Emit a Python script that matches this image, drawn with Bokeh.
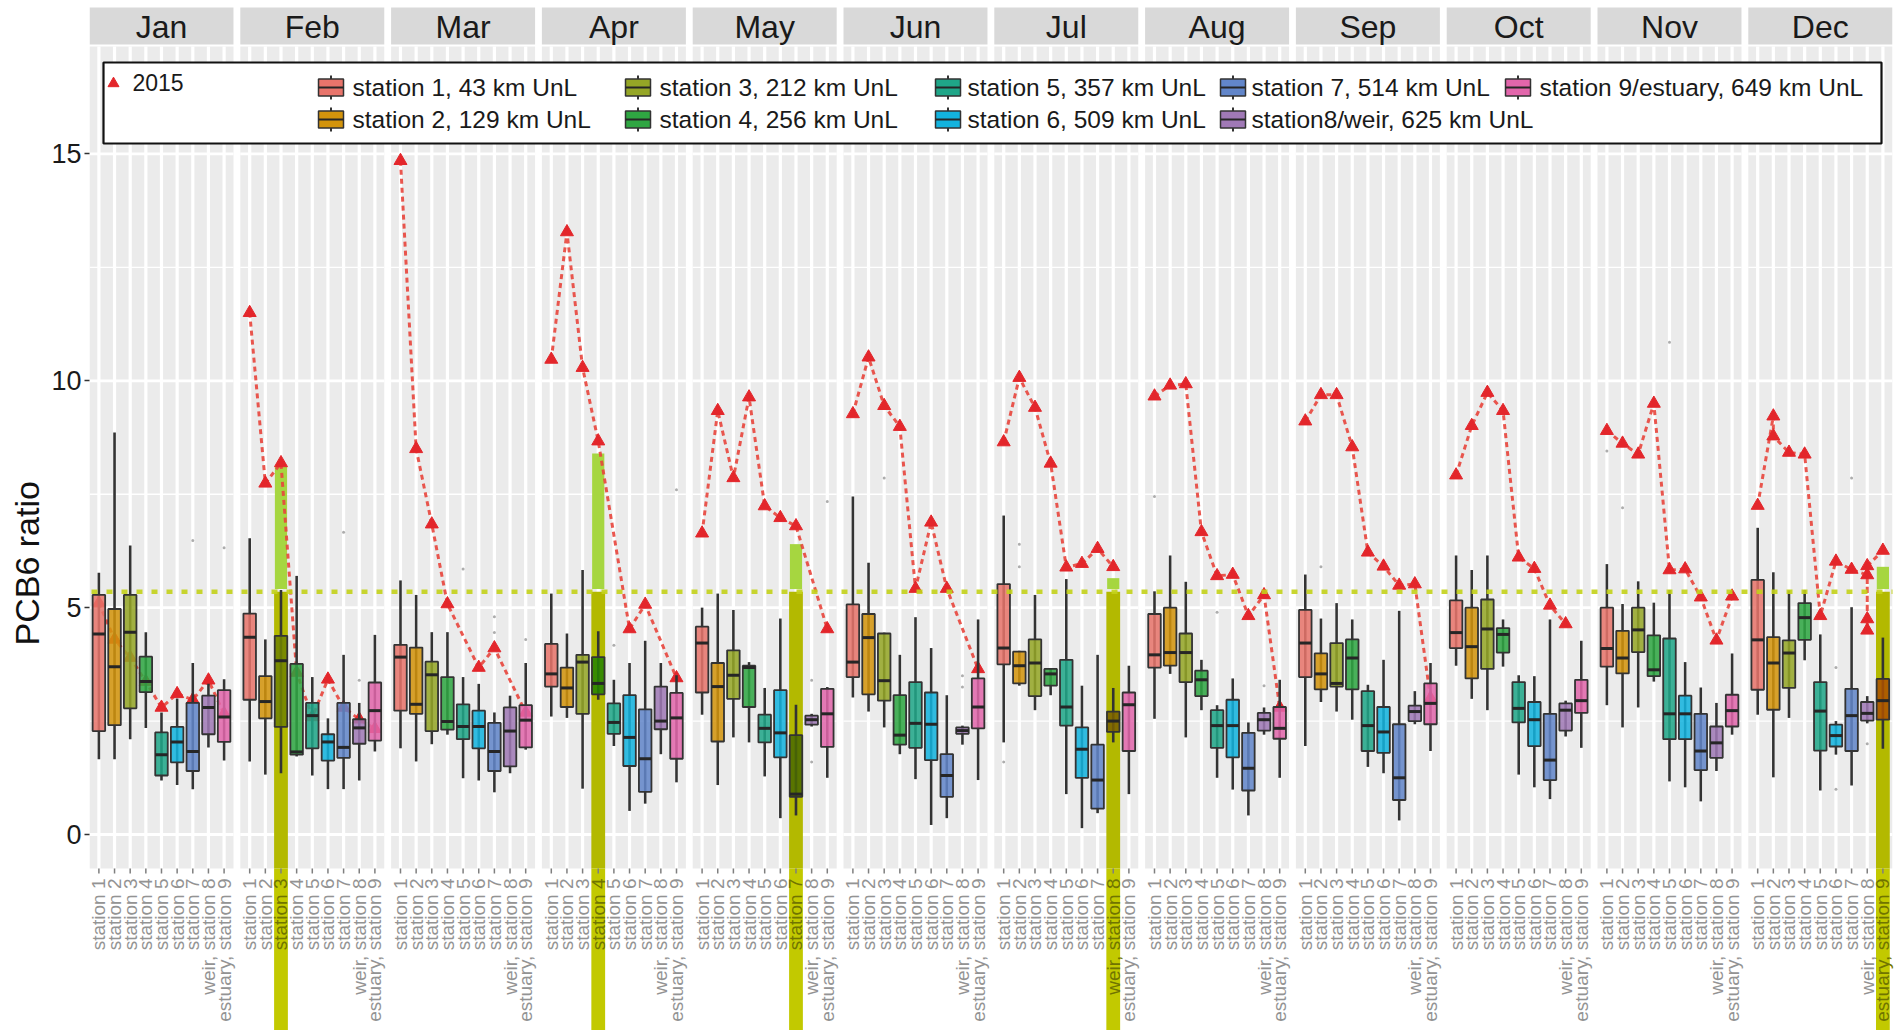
import math
from bokeh.plotting import figure
from bokeh.models import Range1d, FixedTicker, Title
from bokeh.embed import file_html
from bokeh.resources import INLINE
from bokeh.core.properties import value

# ---------------------------------------------------------------- data
months = ["Jan", "Feb", "Mar", "Apr", "May", "Jun",
          "Jul", "Aug", "Sep", "Oct", "Nov", "Dec"]

station_ticks = ["station 1", "station 2", "station 3", "station 4", "station 5",
                 "station 6", "station 7", "weir, station 8", "estuary, station 9"]

station_names = ["station 1, 43 km UnL", "station 2, 129 km UnL",
                 "station 3, 212 km UnL", "station 4, 256 km UnL",
                 "station 5, 357 km UnL", "station 6, 509 km UnL",
                 "station 7, 514 km UnL", "station8/weir, 625 km UnL",
                 "station 9/estuary, 649 km UnL"]

station_colors = ["#E8746B", "#D3940C", "#95A626", "#2FA642", "#1FA688",
                  "#13B3DE", "#6286CA", "#A079B6", "#E266AB"]

# box statistics: one row per month, one column per station
whisker_low = [
    [1.66, 1.66, 2.10, 2.35, 1.19, 1.09, 1.00, 1.92, 1.63],
    [1.61, 1.32, 1.35, 1.72, 1.30, 1.00, 1.00, 1.19, 1.83],
    [1.90, 1.61, 1.99, 2.20, 1.24, 1.19, 0.93, 1.35, 1.87],
    [2.60, 2.57, 1.01, 2.97, 1.95, 0.52, 0.68, 1.77, 1.15],
    [2.64, 1.09, 2.14, 2.03, 1.28, 0.36, 0.42, 2.38, 1.25],
    [3.02, 2.71, 2.36, 1.77, 1.22, 0.21, 0.36, 1.98, 1.20],
    [2.03, 3.28, 2.74, 3.07, 0.89, 0.14, 0.47, 2.03, 0.89],
    [2.55, 3.54, 2.14, 2.74, 1.25, 0.99, 0.42, 2.20, 1.25],
    [1.95, 2.92, 2.71, 2.53, 1.49, 1.35, 0.31, 2.43, 1.84],
    [3.72, 2.99, 2.74, 3.70, 1.32, 1.04, 0.78, 2.16, 1.91],
    [2.85, 2.36, 2.80, 3.37, 1.17, 1.04, 0.73, 1.40, 2.20],
    [2.64, 1.26, 2.57, 3.84, 0.97, 1.76, 1.08, 2.45, 1.89],
]
q1 = [
    [2.28, 2.41, 2.78, 3.14, 1.30, 1.59, 1.40, 2.21, 2.04],
    [2.97, 2.56, 2.37, 1.76, 1.90, 1.63, 1.69, 2.00, 2.07],
    [2.73, 2.66, 2.28, 2.31, 2.10, 1.90, 1.40, 1.50, 1.92],
    [3.26, 2.81, 2.66, 3.09, 2.22, 1.51, 0.94, 2.32, 1.67],
    [3.13, 2.05, 2.99, 2.81, 2.03, 1.70, 0.83, 2.42, 1.93],
    [3.47, 3.09, 2.95, 1.98, 1.91, 1.64, 0.83, 2.22, 2.34],
    [3.75, 3.33, 3.05, 3.28, 2.40, 1.25, 0.57, 2.26, 1.84],
    [3.68, 3.72, 3.36, 3.05, 1.91, 1.70, 0.97, 2.29, 2.11],
    [3.47, 3.20, 3.26, 3.20, 1.84, 1.80, 0.76, 2.50, 2.43],
    [4.11, 3.44, 3.65, 4.01, 2.47, 1.95, 1.20, 2.29, 2.68],
    [3.70, 3.55, 4.02, 3.49, 2.10, 2.10, 1.42, 1.69, 2.38],
    [3.19, 2.75, 3.23, 4.29, 1.85, 1.94, 1.84, 2.51, 2.53],
]
median = [
    [4.42, 3.70, 4.46, 3.37, 1.76, 2.04, 1.83, 2.80, 2.59],
    [4.35, 2.93, 3.83, 1.82, 2.62, 2.04, 1.92, 2.35, 2.73],
    [3.91, 2.87, 3.52, 2.49, 2.38, 2.38, 1.83, 2.28, 2.52],
    [3.54, 3.23, 3.80, 3.33, 2.47, 2.14, 1.67, 2.50, 2.57],
    [4.22, 3.26, 3.51, 3.68, 2.34, 2.24, 0.89, 2.53, 2.66],
    [3.80, 4.34, 3.39, 2.19, 2.45, 2.43, 1.30, 2.29, 2.81],
    [4.11, 3.72, 3.78, 3.54, 2.81, 1.88, 1.20, 2.50, 2.86],
    [3.96, 4.01, 4.01, 3.41, 2.40, 2.40, 1.46, 2.53, 2.34],
    [4.22, 3.54, 3.33, 3.89, 2.40, 2.26, 1.25, 2.71, 2.89],
    [4.45, 4.14, 4.53, 4.41, 2.78, 2.53, 1.64, 2.74, 2.95],
    [4.10, 3.89, 4.51, 3.63, 2.66, 2.66, 1.84, 2.02, 2.73],
    [4.29, 3.78, 4.00, 4.78, 2.72, 2.18, 2.62, 2.67, 2.95],
]
q3 = [
    [5.28, 4.97, 5.28, 3.92, 2.25, 2.37, 2.90, 3.06, 3.18],
    [4.87, 3.49, 4.38, 3.76, 2.90, 2.21, 2.90, 2.54, 3.35],
    [4.18, 4.12, 3.81, 3.47, 2.87, 2.73, 2.46, 2.80, 2.85],
    [4.20, 3.68, 3.96, 3.91, 2.89, 3.07, 2.76, 3.26, 3.12],
    [4.58, 3.78, 4.06, 3.72, 2.64, 3.18, 2.19, 2.62, 3.21],
    [5.07, 4.86, 4.43, 3.07, 3.36, 3.13, 1.77, 2.36, 3.44],
    [5.52, 4.03, 4.30, 3.65, 3.85, 2.36, 1.98, 2.71, 3.13],
    [4.86, 5.00, 4.43, 3.61, 2.74, 2.97, 2.24, 2.68, 2.81],
    [4.95, 3.99, 4.22, 4.30, 3.16, 2.81, 2.43, 2.84, 3.33],
    [5.16, 5.00, 5.18, 4.55, 3.36, 2.92, 2.66, 2.89, 3.41],
    [5.00, 4.49, 5.00, 4.39, 4.32, 3.06, 2.66, 2.38, 3.08],
    [5.61, 4.35, 4.28, 5.10, 3.36, 2.42, 3.21, 2.92, 3.43],
]
whisker_high = [
    [5.77, 8.86, 6.37, 4.46, 2.69, 3.00, 3.78, 3.32, 3.42],
    [6.53, 4.30, 5.39, 5.70, 3.47, 2.56, 3.96, 2.90, 4.40],
    [5.60, 5.28, 4.46, 4.46, 3.47, 3.32, 2.69, 3.06, 3.78],
    [5.31, 4.43, 5.83, 4.48, 3.41, 3.78, 4.27, 3.78, 3.51],
    [5.00, 5.31, 4.95, 3.80, 3.23, 4.76, 2.86, 2.66, 3.25],
    [7.45, 5.99, 4.45, 3.96, 4.79, 4.11, 3.07, 2.40, 4.74],
    [7.03, 4.05, 5.28, 3.67, 5.63, 3.28, 3.96, 3.23, 3.72],
    [5.36, 6.15, 5.57, 3.85, 2.85, 3.44, 2.47, 2.80, 3.41],
    [5.73, 4.76, 5.10, 4.74, 3.30, 3.85, 4.93, 3.16, 3.78],
    [6.15, 5.83, 6.15, 4.74, 3.51, 3.49, 4.74, 2.95, 4.27],
    [5.96, 5.08, 5.58, 5.11, 5.39, 3.80, 3.24, 2.90, 3.99],
    [6.76, 5.78, 5.38, 5.39, 4.41, 2.50, 5.01, 3.05, 4.34],
]

# 2015 samples: stations and ratios per month
tri_station = [
    [1, 2, 3, 4, 5, 6, 7, 8, 9],
    [1, 2, 3, 4, 5, 6, 7, 8, 9],
    [1, 2, 3, 4, 6, 7, 9],
    [1, 2, 3, 4, 6, 7, 9],
    [1, 2, 3, 4, 5, 6, 7, 9],
    [1, 2, 3, 4, 5, 6, 7, 9],
    [1, 2, 3, 4, 5, 6, 7, 8],
    [1, 2, 3, 4, 5, 6, 7, 8, 9],
    [1, 2, 3, 4, 5, 6, 7, 8, 9],
    [1, 2, 3, 4, 5, 6, 7, 8],
    [1, 2, 3, 4, 5, 6, 7, 8, 9],
    [1, 2, 2, 3, 4, 5, 6, 7, 8, 8, 8, 8, 9],
]
tri_value = [
    [5.10, 4.30, 3.90, 3.37, 2.80, 3.10, 2.97, 3.40, 2.66],
    [11.50, 7.74, 8.19, 3.57, 2.59, 3.42, 2.80, 2.54, 2.33],
    [14.85, 8.50, 6.84, 5.08, 3.68, 4.11, 2.69],
    [10.47, 13.28, 10.29, 8.67, 4.53, 5.07, 3.45],
    [6.64, 9.34, 7.86, 9.64, 7.24, 6.98, 6.80, 4.53],
    [9.27, 10.52, 9.45, 8.99, 5.42, 6.88, 5.42, 3.65],
    [8.65, 10.07, 9.41, 8.18, 5.89, 5.97, 6.30, 5.90],
    [9.66, 9.90, 9.93, 6.67, 5.70, 5.73, 4.82, 5.28, 2.80],
    [9.11, 9.69, 9.69, 8.54, 6.22, 5.91, 5.49, 5.52, 3.00],
    [7.92, 9.01, 9.74, 9.34, 6.11, 5.86, 5.05, 4.64],
    [8.90, 8.62, 8.38, 9.50, 5.83, 5.85, 5.23, 4.28, 5.25],
    [7.25, 9.22, 8.78, 8.42, 8.38, 4.82, 6.02, 5.84, 5.72, 4.50, 4.75, 5.92, 6.26],
]

# single outlying observations (month index, station, ratio)
out_month = [0, 0, 1, 1, 2, 2, 2, 2, 3, 3, 4, 4, 4, 5, 5, 5, 6, 6, 6,
             7, 7, 7, 8, 10, 10, 10, 11, 11, 11, 11]
out_station = [7, 9, 7, 8, 5, 7, 7, 9, 5, 9, 8, 8, 9, 3, 8, 8, 2, 2, 1,
               1, 5, 8, 2, 1, 2, 5, 6, 6, 7, 8]
out_value = [6.48, 6.32, 6.66, 3.40, 5.85, 4.80, 4.45, 4.30, 4.17, 7.60,
             3.40, 1.60, 7.34, 7.86, 3.50, 3.25, 6.40, 5.90, 1.60,
             7.45, 4.90, 3.28, 5.90, 8.45, 7.20, 10.85, 3.68, 1.00, 7.86, 2.00]

# reference level and the stations flagged above it
threshold = 5.35
flag_month = [1, 3, 4, 6, 11]
flag_station = [3, 4, 7, 8, 9]
flag_top = [8.10, 8.40, 6.40, 5.65, 5.90]

# ---------------------------------------------------------------- layout
W, H = 1895, 1030
LEFT = 89                 # left edge of the first panel (px)
UNIT_PX = 15.65           # px per station slot
PITCH = 150.8 / UNIT_PX   # panel pitch in station units
ZERO_PX = 834.0           # px row of ratio 0
Y_PX = 45.37              # px per ratio unit
FONT = "Liberation Sans"


def xpx(px):
    return 0.4 + (px - LEFT) / UNIT_PX


def ypx(py):
    return (ZERO_PX - py) / Y_PX


def rgb(h):
    h = h.lstrip("#")
    return tuple(int(h[i:i + 2], 16) for i in (0, 2, 4))


def multiply(a, b):
    ca, cb = rgb(a), rgb(b)
    return "#%02x%02x%02x" % tuple(int(round(x * y / 255.0)) for x, y in zip(ca, cb))


def sx(m, k):
    return m * PITCH + k


PANEL_BG = "#ebebeb"
OLIVE = "#c2c900"
BRIGHT = "#a6d640"
DARK = "#333333"

p = figure(width=W, height=H,
           x_range=Range1d(xpx(LEFT), xpx(W)),
           y_range=Range1d(ypx(H), ypx(0)),
           output_backend="svg", toolbar_location=None,
           x_axis_location=None, y_axis_location="left",
           min_border_left=LEFT, min_border_right=0,
           min_border_top=0, min_border_bottom=0)
p.grid.visible = False
p.outline_line_color = None
p.background_fill_color = "white"
p.border_fill_color = "white"

yax = p.yaxis[0]
yax.ticker = FixedTicker(ticks=[0, 5, 10, 15])
yax.axis_line_color = None
yax.minor_tick_line_color = None
yax.major_tick_in = 0
yax.major_tick_out = 5
yax.major_tick_line_color = DARK
yax.major_tick_line_width = 1.5
yax.major_label_text_font = FONT
yax.major_label_text_font_size = "27px"
yax.major_label_text_color = "#1a1a1a"
yax.major_label_standoff = 3

# axis title, placed alongside the data panels (offset from the canvas bottom)
p.add_layout(Title(text="PCB6 ratio", align="left", offset=385, standoff=6,
                   text_font=FONT, text_font_size="34px", text_font_style="normal",
                   text_color="#111111"), "left")

panel_left = [m * PITCH + 0.4 for m in range(12)]
panel_right = [x + 9.2 for x in panel_left]
panel_bottom, panel_top = ypx(868), ypx(46)

# panel backgrounds and month strips
p.quad(left=panel_left, right=panel_right, bottom=panel_bottom, top=panel_top,
       fill_color=PANEL_BG, line_color=None)
p.quad(left=panel_left, right=panel_right, bottom=ypx(44), top=ypx(7),
       fill_color="#d9d9d9", line_color=None)
p.text(x=[(a + b) / 2 for a, b in zip(panel_left, panel_right)],
       y=[ypx(26)] * 12, text=months, text_align="center", text_baseline="middle",
       text_font=value(FONT), text_font_size="32px", text_color="#1a1a1a")

# grid lines inside each panel
hx0, hx1, hy = [], [], []
for yv in [0, 5, 10, 15]:
    hx0 += panel_left
    hx1 += panel_right
    hy += [yv] * 12
p.segment(x0=hx0, y0=hy, x1=hx1, y1=hy, line_color="white", line_width=2.8)
mx0, mx1, my = [], [], []
for yv in [2.5, 7.5, 12.5]:
    mx0 += panel_left
    mx1 += panel_right
    my += [yv] * 12
p.segment(x0=mx0, y0=my, x1=mx1, y1=my, line_color="white", line_width=1.3)
vx = [sx(m, k) for m in range(12) for k in range(1, 10)]
p.segment(x0=vx, y0=[panel_bottom] * len(vx), x1=vx, y1=[panel_top] * len(vx),
          line_color="white", line_width=3.2)

# flagged stations: olive column below the level, bright block above it
flag_x = [sx(m, k) for m, k in zip(flag_month, flag_station)]
p.quad(left=[x - 0.44 for x in flag_x], right=[x + 0.44 for x in flag_x],
       bottom=panel_bottom, top=threshold,
       fill_color=multiply(OLIVE, PANEL_BG), line_color=None)
p.quad(left=[x - 0.44 for x in flag_x], right=[x + 0.44 for x in flag_x],
       bottom=ypx(H), top=panel_bottom, fill_color=OLIVE, line_color=None)
p.quad(left=[x - 0.39 for x in flag_x], right=[x + 0.39 for x in flag_x],
       bottom=threshold + 0.06, top=flag_top, fill_color=BRIGHT, line_color=None)
flagged = set(zip(flag_month, flag_station))

# 2015 samples sit beneath the boxes and show through them
line_xs = [[sx(m, k) for k in tri_station[m]] for m in range(12)]
line_ys = [list(tri_value[m]) for m in range(12)]
p.multi_line(xs=line_xs, ys=line_ys, line_color="#E8453C", line_width=3,
             line_dash="5 4", line_alpha=0.9)
p.scatter(x=[x for row in line_xs for x in row], y=[y for row in line_ys for y in row],
          marker="triangle", size=13, fill_color="#E3262B", line_color="#E3262B")

# box plots
bx, blo, bq1, bmed, bq3, bhi, bfill = [], [], [], [], [], [], []
for m in range(12):
    for k in range(1, 10):
        bx.append(sx(m, k))
        blo.append(whisker_low[m][k - 1])
        bq1.append(q1[m][k - 1])
        bmed.append(median[m][k - 1])
        bq3.append(q3[m][k - 1])
        bhi.append(whisker_high[m][k - 1])
        c = station_colors[k - 1]
        bfill.append(multiply(c, OLIVE) if (m, k) in flagged else c)

p.segment(x0=bx, y0=blo, x1=bx, y1=bhi, line_color=DARK, line_width=2.6)
p.quad(left=[x - 0.4 for x in bx], right=[x + 0.4 for x in bx], bottom=bq1, top=bq3,
       fill_color=bfill, fill_alpha=0.86, line_color=DARK, line_width=1.8)
p.segment(x0=[x - 0.4 for x in bx], y0=bmed, x1=[x + 0.4 for x in bx], y1=bmed,
          line_color="#262626", line_width=3)

p.scatter(x=[sx(m, k) for m, k in zip(out_month, out_station)], y=out_value,
          size=3, marker="circle", fill_color="#8a8a8a", line_color=None, fill_alpha=0.7)

# dotted reference level
p.segment(x0=[xpx(91)], y0=[threshold], x1=[xpx(1892)], y1=[threshold],
          line_color="#c3d21a", line_width=4.5, line_dash="6 9", line_alpha=0.9)

# x tick marks and rotated station labels
p.segment(x0=vx, y0=[ypx(868)] * len(vx), x1=vx, y1=[ypx(873)] * len(vx),
          line_color="#7f7f7f", line_width=1.5)
label_gray = "#939393"
lab_colors = []
lab_text = []
for m in range(12):
    for k in range(1, 10):
        lab_text.append(station_ticks[k - 1])
        lab_colors.append(multiply(label_gray, OLIVE) if (m, k) in flagged else label_gray)
p.text(x=vx, y=[ypx(878)] * len(vx), text=lab_text, angle=math.pi / 2,
       text_align="right", text_baseline="middle", text_font=value(FONT),
       text_font_size="19px", text_color=lab_colors)

# legend
p.quad(left=[xpx(103)], right=[xpx(1881)], bottom=[ypx(143)], top=[ypx(62)],
       fill_color="white", line_color="#111111", line_width=2.2)
p.scatter(x=[xpx(113)], y=[ypx(83)], marker="triangle", size=11,
          fill_color="#E3262B", line_color="#E3262B")
p.text(x=[xpx(132)], y=[ypx(82)], text=["2015"], text_align="left",
       text_baseline="middle", text_font=value(FONT), text_font_size="23px",
       text_color="#1a1a1a")

icon_left = [318, 625, 935, 1220, 1505]
text_left = [352, 659, 967, 1251, 1539]
row_y = [87, 119]
ic_x0, ic_x1, ic_b, ic_t, ic_c, ic_cx, tx, ty, wy0, wy1 = ([] for _ in range(10))
for i, name in enumerate(station_names):
    col, row = divmod(i, 2)
    yc = row_y[row]
    ic_x0.append(xpx(icon_left[col]))
    ic_x1.append(xpx(icon_left[col] + 25))
    ic_cx.append(xpx(icon_left[col] + 12.5))
    ic_b.append(ypx(yc + 8.5))
    ic_t.append(ypx(yc - 8.5))
    wy0.append(ypx(yc + 12))
    wy1.append(ypx(yc - 12))
    ic_c.append(station_colors[i])
    tx.append(xpx(text_left[col]))
    ty.append(ypx(yc))
p.segment(x0=ic_cx, y0=wy0, x1=ic_cx, y1=wy1, line_color=DARK, line_width=2)
p.quad(left=ic_x0, right=ic_x1, bottom=ic_b, top=ic_t, fill_color=ic_c,
       line_color=DARK, line_width=1.5)
p.segment(x0=ic_x0, y0=ty, x1=ic_x1, y1=ty, line_color="#262626", line_width=2)
p.text(x=tx, y=ty, text=station_names, text_align="left", text_baseline="middle",
       text_font=value(FONT), text_font_size="24.5px", text_color="#1a1a1a")

open("out.html", "w").write(file_html(p, INLINE))
